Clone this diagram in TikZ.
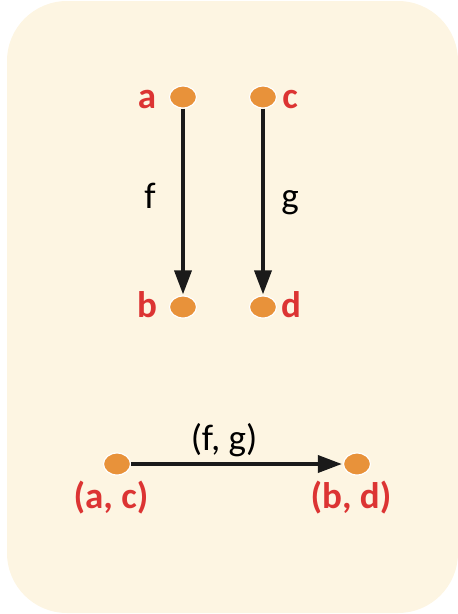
\documentclass[tikz,border=0pt]{standalone}
\usepackage{fontspec}
\setmainfont{Carlito}
\usetikzlibrary{arrows.meta}
\definecolor{bgc}{HTML}{FDF5E2}
\definecolor{dotc}{HTML}{E8923A}
\definecolor{redc}{HTML}{DC3433}
\definecolor{arrc}{HTML}{1A1A1A}
\tikzset{
  dot/.style={ellipse, fill=dotc, draw=white, line width=1.2pt, minimum width=27pt, minimum height=22pt, inner sep=0pt},
  lab/.style={text=redc, font=\fontsize{37}{40}\selectfont\bfseries, inner sep=0pt, anchor=base},
  mor/.style={text=black, font=\fontsize{37}{40}\selectfont, inner sep=0pt, anchor=base},
  arr/.style={draw=arrc, line width=3.6pt, -{Triangle[length=24pt, width=17pt]}, shorten >=1pt, shorten <=0pt}
}
\usetikzlibrary{shapes.geometric}
\begin{document}
\begin{tikzpicture}[x=1pt, y=-1pt]
\useasboundingbox (0,0) rectangle (458,614);
\fill[bgc, rounded corners=60pt] (7,1) rectangle (458,613);
\node[dot] (a) at (183,97) {};
\node[dot] (c) at (263,97) {};
\node[dot] (b) at (183,307) {};
\node[dot] (d) at (263,307) {};
\node[lab] (la) at (147,108) {a};
\node[lab] (lc) at (290,108) {c};
\node[lab] (lb) at (147,317) {b};
\node[lab] (ld) at (291,317) {d};
\draw[arr] (a) -- (b);
\draw[arr] (c) -- (d);
\node[mor] (lf) at (150,208) {f};
\node[mor] (lg) at (290,208) {g};
\node[dot] (ac) at (117,464) {};
\node[dot] (bd) at (357,464) {};
\draw[arr] (ac) -- (bd);
\node[mor] (lfg) at (224,450) {(f, g)};
\node[lab] (lac) at (111,508) {(a, c)};
\node[lab] (lbd) at (351,508) {(b, d)};
\end{tikzpicture}
\end{document}
